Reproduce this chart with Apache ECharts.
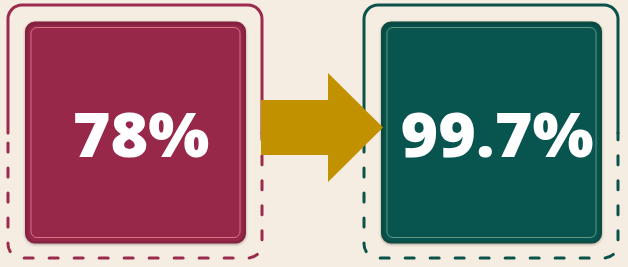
<!DOCTYPE html>
<html><head><meta charset="utf-8">
<script src="https://cdn.jsdelivr.net/npm/echarts@6/dist/echarts.min.js"></script>
<style>html,body{margin:0;padding:0;background:#F5ECE2}#c{width:628px;height:267px}</style>
</head><body><div id="c"></div>
<script>
// ---- data ----
const categories = ['Before', 'After'];
const values = [78, 99.7];
const valueLabels = ['78%', '99.7%'];

// ---- styles ----
const palette = [
  { line: '#9A2B4C', fill: '#97284A', rim: '#86213F', inner: 'rgba(235,140,150,0.75)' },
  { line: '#0B524B', fill: '#08544F', rim: '#0D4A3E', inner: 'rgba(170,200,170,0.55)' }
];
const arrowColor = '#C29100';

const chart = echarts.init(document.getElementById('c'), null, { renderer: 'canvas' });

function renderCard(params, api) {
  const i = params.dataIndex;
  const cx = api.coord([api.value(0), 0])[0];
  const p = palette[i];
  const L = cx - 127, R = cx + 127, T = 5, B = 258, r = 14, mid = 133;
  const solid = `M${L} ${mid} L${L} ${T + r} A${r} ${r} 0 0 1 ${L + r} ${T} L${R - r} ${T} A${r} ${r} 0 0 1 ${R} ${T + r} L${R} ${mid}`;
  const dashed = `M${L} ${mid + 10} L${L} ${B - r} A${r} ${r} 0 0 0 ${L + r} ${B} L${R - r} ${B} A${r} ${r} 0 0 0 ${R} ${B - r} L${R} ${mid}`;
  const bx = cx - 109, bw = 219, by = 22.5, bh = 220;
  return {
    type: 'group',
    children: [
      { type: 'path', shape: { pathData: solid }, style: { fill: 'none', stroke: p.line, lineWidth: 3, lineCap: 'round' } },
      { type: 'path', shape: { pathData: dashed }, style: { fill: 'none', stroke: p.line, lineWidth: 3, lineCap: 'round', lineDash: [9, 16] } },
      { type: 'rect', shape: { x: bx, y: by, width: bw, height: bh, r: 9 },
        style: { fill: p.fill, stroke: p.rim, lineWidth: 2, shadowBlur: 3, shadowColor: 'rgba(0,0,0,0.25)', shadowOffsetY: 1 } },
      { type: 'rect', shape: { x: bx + 5, y: by + 5, width: bw - 10, height: bh - 10, r: 6 },
        style: { fill: 'none', stroke: p.inner, lineWidth: 1 } },
      { type: 'text', x: cx + 6, y: 139, scaleX: 1.04,
        style: { text: valueLabels[i], x: 0, y: 0, fill: '#FFFFFF',
          fontFamily: 'Open Sans', fontWeight: 800, fontSize: 62, align: 'center', verticalAlign: 'middle' } }
    ]
  };
}

function renderArrow(params, api) {
  const x0 = api.coord([0, 0])[0];
  const x1 = api.coord([1, 0])[0];
  const s0 = x0 + 126, hb = x1 - 163, tip = x1 - 108;
  const path = `M${s0} 100 L${hb} 100 L${hb} 73 L${tip} 127.5 L${hb} 182 L${hb} 155 L${s0} 155 Z`;
  return { type: 'path', shape: { pathData: path }, style: { fill: arrowColor } };
}

chart.setOption({
  backgroundColor: '#F5ECE2',
  animation: false,
  grid: { left: 0, right: 0, top: 0, bottom: 0 },
  xAxis: { type: 'value', min: -0.3792, max: 1.3848, show: false },
  yAxis: { type: 'value', min: 0, max: 100, show: false },
  series: [
    { type: 'custom', z: 2, renderItem: renderCard, data: values.map((v, i) => [i, v, categories[i]]) },
    { type: 'custom', z: 3, renderItem: renderArrow, data: [[0, 0]] }
  ]
});
</script></body></html>
